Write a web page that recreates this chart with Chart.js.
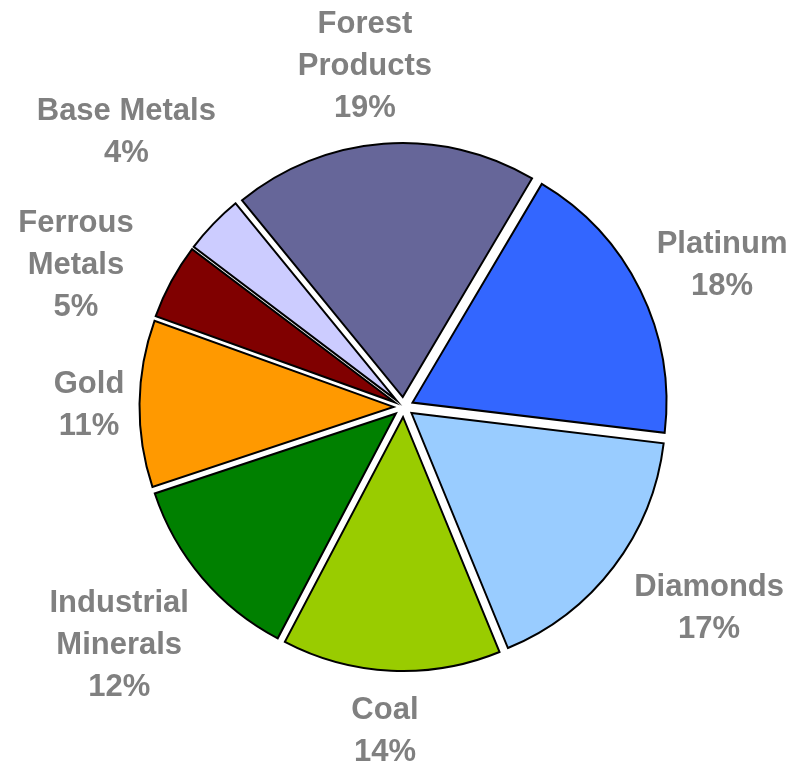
<!DOCTYPE html>
<html>
<head>
<meta charset="utf-8">
<script src="https://cdn.jsdelivr.net/npm/chart.js@4"></script>
<style>
  html, body { margin: 0; padding: 0; background: #ffffff; }
  canvas { display: block; }
</style>
</head>
<body>
<canvas id="chart" width="794" height="765"></canvas>
<script>
// Slice names (wrapped lines), shares in percent and fill colours, clockwise
const categories = [
  ['Platinum'],
  ['Diamonds'],
  ['Coal'],
  ['Industrial', 'Minerals'],
  ['Gold'],
  ['Ferrous', 'Metals'],
  ['Base Metals'],
  ['Forest', 'Products']
];
const shares = [18.4, 16.9, 13.9, 12.2, 10.6, 4.8, 3.8, 19.4];
const sliceColors = ['#3366FF', '#99CCFF', '#99CC00', '#008000', '#FF9900', '#800000', '#CCCCFF', '#666699'];

// Pulls every slice outward along its middle angle
const explodePlugin = {
  id: 'explode',
  beforeDatasetDraw(chart, args, opts) {
    const ctx = chart.ctx;
    args.meta.data.forEach(arc => {
      const mid = (arc.startAngle + arc.endAngle) / 2;
      ctx.save();
      ctx.translate(Math.cos(mid) * opts.distance, Math.sin(mid) * opts.distance);
      arc.draw(ctx, chart.chartArea);
      ctx.restore();
    });
    return false;
  }
};

// Category name plus rounded percentage outside each slice
const labelPlugin = {
  id: 'sliceLabels',
  afterDraw(chart, args, opts) {
    const ctx = chart.ctx;
    const meta = chart.getDatasetMeta(0);
    const values = chart.data.datasets[0].data;
    const total = values.reduce((a, b) => a + b, 0);
    ctx.save();
    ctx.font = 'bold ' + opts.size + 'px "Liberation Sans", Arial, sans-serif';
    ctx.fillStyle = opts.color;
    ctx.textAlign = 'center';
    ctx.textBaseline = 'alphabetic';
    meta.data.forEach((arc, i) => {
      const [dist, nudge] = opts.placement[i];
      const a = (arc.startAngle + arc.endAngle) / 2 + nudge * Math.PI / 180;
      const cx = arc.x + Math.cos(a) * dist;
      const cy = arc.y + Math.sin(a) * dist;
      const name = chart.data.labels[i];
      const lines = [...(Array.isArray(name) ? name : [name]), Math.round(values[i] / total * 100) + '%'];
      const first = cy - (lines.length - 1) * opts.lineHeight / 2 + opts.cap / 2;
      lines.forEach((t, k) => ctx.fillText(t, cx, first + k * opts.lineHeight));
    });
    ctx.restore();
  }
};

new Chart(document.getElementById('chart'), {
  type: 'pie',
  data: {
    labels: categories,
    datasets: [{
      data: shares,
      backgroundColor: sliceColors,
      borderColor: '#000000',
      borderWidth: 2,
      borderJoinStyle: 'miter',
      radius: 254,
      offset: 0
    }]
  },
  options: {
    responsive: false,
    animation: false,
    rotation: 30.6,
    layout: { padding: { left: 13, right: 0, top: 49, bottom: 0 } },
    events: [],
    plugins: {
      legend: { display: false },
      tooltip: { enabled: false },
      explode: { distance: 10 },
      sliceLabels: {
        size: 31,
        cap: 22,
        lineHeight: 42,
        color: '#808080',
        // distance from the pie centre and angular nudge in degrees
        placement: [
          [349.5, 2.0], [364.6, -4.2], [322.5, 0.6], [369.6, 0.6],
          [314.5, 0.0], [357.8, -4.7], [392.1, 1.1], [345.2, -2.1]
        ]
      }
    }
  },
  plugins: [explodePlugin, labelPlugin]
});
</script>
</body>
</html>
